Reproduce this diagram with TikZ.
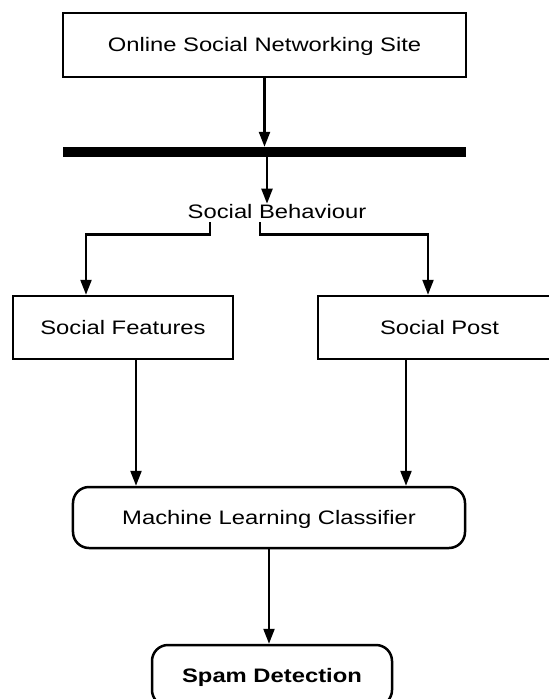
\documentclass[tikz,border=0pt]{standalone}
\usepackage{fontspec}
\setmainfont[FakeStretch=1.22]{Liberation Sans}
\usetikzlibrary{arrows.meta}
\begin{document}
\begin{tikzpicture}[x=1bp, y=-1bp,
    txt/.style={font=\fontsize{19.5bp}{23bp}\selectfont},
    box/.style={txt, draw, line width=2.5bp, text height=14bp, text depth=0bp, inner sep=0pt},
    roundbox/.style={box, rounded corners=16bp},
    arr/.style={line width=2.3bp, -{Triangle[length=15bp,width=11bp]}}]
    \useasboundingbox (0,0) rectangle (549,699);
    \clip (0,0) rectangle (549,699);

    % Draw nodes
    \node[box, minimum width=403bp, minimum height=64bp] (site) at (264.5,45) {Online Social Networking Site};
    \node[fill=black, inner sep=0pt, minimum width=403bp, minimum height=10bp] (bar) at (264.5,152) {};
    \node[txt, anchor=base, inner sep=0pt] (behav) at (277,218) {Social Behaviour};
    \node[box, minimum width=220bp, minimum height=63bp] (feat) at (123,327.5) {Social Features};
    \node[box, minimum width=243bp, minimum height=63bp] (post) at (439.5,327.5) {Social Post};
    \node[roundbox, minimum width=392bp, minimum height=61bp] (ml) at (269,517.5) {Machine Learning Classifier};
    \node[roundbox, minimum width=240bp, minimum height=61bp] (spam) at (272,675.5) {\bfseries Spam Detection};

    \coordinate (ba) at ([xshift=2.5bp]bar.south);
    \coordinate (fa) at ([xshift=13bp]feat.south);
    \coordinate (pa) at ([xshift=-33.5bp]post.south);

    % Draw edges
    \draw[arr] (site.south) -- (bar.north);
    \draw[arr] (ba) -- (ba |- behav.north);
    \draw[arr] ([xshift=-67bp,yshift=-4bp]behav.south) -- ++(0,12) -| ([xshift=-37bp]feat.north);
    \draw[arr] ([xshift=-17bp,yshift=-4bp]behav.south) -- ++(0,12) -| ([xshift=-11.5bp]post.north);
    \draw[arr] (fa) -- (fa |- ml.north);
    \draw[arr] (pa) -- (pa |- ml.north);
    \draw[arr] (ml.south) -- (ml.south |- spam.north);
\end{tikzpicture}
\end{document}
